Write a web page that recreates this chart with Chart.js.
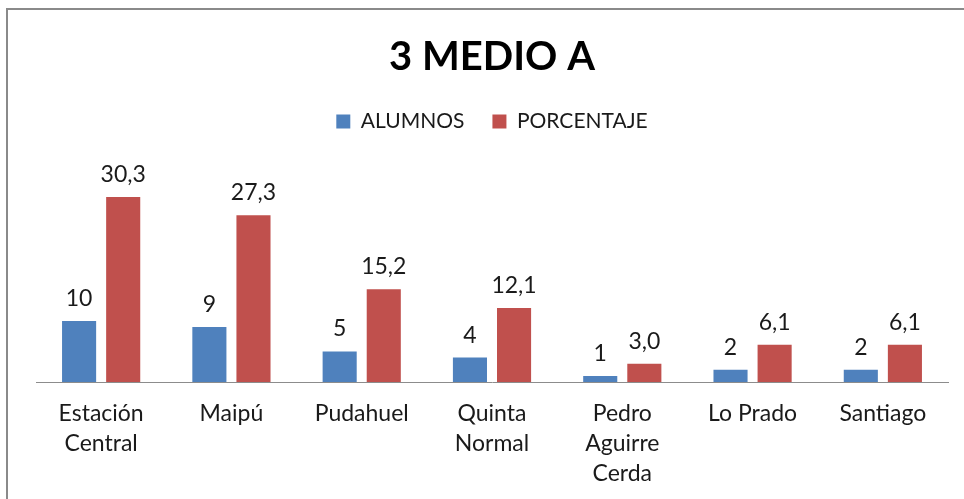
<!DOCTYPE html>
<html>
<head>
<meta charset="utf-8">
<script src="https://cdn.jsdelivr.net/npm/chart.js@4.4.1/dist/chart.umd.min.js"></script>
<style>
  html, body { margin: 0; padding: 0; background: #fff; }
  #wrap { position: relative; width: 964px; height: 499px; }
  #frame { position: absolute; left: 6px; top: 8px; width: 958px; height: 491px;
           border-left: 2px solid #8a8a8a; border-top: 2px solid #8a8a8a; box-sizing: border-box; }
  canvas { position: absolute; left: 0; top: 0; }
</style>
</head>
<body>
<div id="wrap">
  <div id="frame"></div>
  <canvas id="c" width="964" height="499"></canvas>
</div>
<script>
const categories = [["Estación", "Central"], "Maipú", "Pudahuel", ["Quinta", "Normal"], ["Pedro", "Aguirre", "Cerda"], "Lo Prado", "Santiago"];
const alumnos = [10, 9, 5, 4, 1, 2, 2];
const porcentaje = [30.3, 27.3, 15.2, 12.1, 3.0, 6.1, 6.1];
const seriesNames = ["ALUMNOS", "PORCENTAJE"];
const chartTitle = "3 MEDIO A";

const FONT = "Lato, 'Open Sans', sans-serif";

const labelPlugin = {
  id: 'barLabels',
  afterDatasetsDraw(chart) {
    const ctx = chart.ctx;
    ctx.save();
    ctx.font = "23px " + FONT;
    ctx.fillStyle = "#1a1a1a";
    ctx.textAlign = "center";
    ctx.textBaseline = "alphabetic";
    chart.data.datasets.forEach((ds, di) => {
      const meta = chart.getDatasetMeta(di);
      meta.data.forEach((bar, i) => {
        const v = ds.data[i];
        const txt = di === 0 ? String(v) : v.toFixed(1).replace('.', ',');
        ctx.fillText(txt, bar.x, bar.y - 15);
      });
    });
    ctx.restore();
  }
};

new Chart(document.getElementById('c'), {
  type: 'bar',
  data: {
    labels: categories,
    datasets: [
      { label: seriesNames[0], data: alumnos, backgroundColor: '#4F81BD', borderWidth: 0 },
      { label: seriesNames[1], data: porcentaje, backgroundColor: '#C0504D', borderWidth: 0 }
    ]
  },
  options: {
    responsive: false,
    animation: false,
    devicePixelRatio: 1,
    layout: { padding: { left: 36, right: 16, top: 0, bottom: 0 } },
    datasets: { bar: { categoryPercentage: 0.677, barPercentage: 0.773 } },
    plugins: {
      title: {
        display: true,
        text: chartTitle,
        color: '#000',
        font: { family: FONT, size: 40, weight: 'bold' },
        padding: { top: 33, bottom: 2 }
      },
      legend: {
        display: true,
        labels: {
          color: '#1a1a1a',
          font: { family: FONT, size: 21 },
          boxWidth: 14, boxHeight: 14,
          padding: 28
        }
      },
      tooltip: { enabled: false }
    },
    scales: {
      x: {
        grid: { display: false, drawTicks: false },
        border: { display: true, color: '#8c8c8c', width: 1 },
        ticks: { color: '#1a1a1a', font: { family: FONT, size: 23, lineHeight: 1.3 }, padding: 17, maxRotation: 0, autoSkip: false },
        afterFit(scale) { scale.height = 117; }
      },
      y: {
        display: false,
        min: 0,
        max: 39.3
      }
    }
  },
  plugins: [labelPlugin]
});
</script>
</body>
</html>
